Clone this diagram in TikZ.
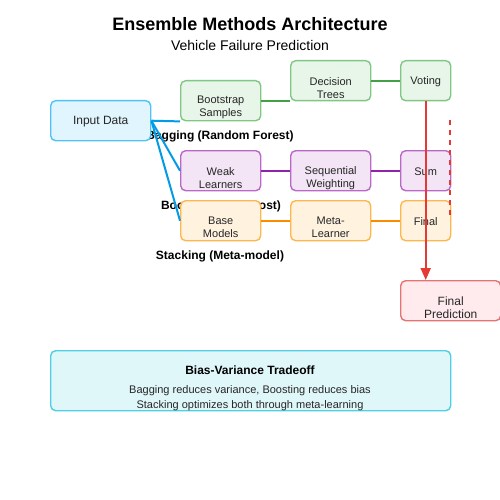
\documentclass[tikz,border=0pt]{standalone}
\usepackage{fontspec}
\setmainfont{Liberation Sans}
\usetikzlibrary{arrows.meta}
\definecolor{bluefill}{HTML}{E1F5FE}\definecolor{bluedraw}{HTML}{4FC3F7}\definecolor{blueline}{HTML}{039BE5}
\definecolor{greenfill}{HTML}{E8F5E9}\definecolor{greendraw}{HTML}{81C784}\definecolor{greenline}{HTML}{43A047}
\definecolor{purpfill}{HTML}{F3E5F5}\definecolor{purpdraw}{HTML}{BA68C8}\definecolor{purpline}{HTML}{8E24AA}
\definecolor{orfill}{HTML}{FFF3E0}\definecolor{ordraw}{HTML}{FFB74D}\definecolor{orline}{HTML}{FB8C00}
\definecolor{redfill}{HTML}{FFEBEE}\definecolor{reddraw}{HTML}{E57373}\definecolor{redline}{HTML}{E53935}
\definecolor{cyanfill}{HTML}{E0F7FA}\definecolor{cyandraw}{HTML}{4DD0E1}
\tikzset{
  box/.style={draw, rounded corners=5pt, line width=1.4pt, inner sep=0pt, anchor=north west},
  txt/.style={font=\fontsize{11}{13}\selectfont, align=center, inner sep=0pt, text=black!85},
  lbl/.style={font=\bfseries\fontsize{12}{14}\selectfont, inner sep=0pt},
  conn/.style={line width=2pt},
}
\begin{document}
\begin{tikzpicture}[x=1pt,y=-1pt]
\useasboundingbox (0,0) rectangle (500,500);
% titles
\node[font=\bfseries\fontsize{18}{20}\selectfont, inner sep=0pt] (title) at (250,24) {Ensemble Methods Architecture};
\node[font=\fontsize{14}{16}\selectfont, inner sep=0pt] (sub) at (250,45) {Vehicle Failure Prediction};
% method labels
\node[lbl] (lbag) at (220,136) {Bagging (Random Forest)};
\node[lbl] (lboost) at (221,206) {Boosting (AdaBoost)};
\node[lbl] (lstack) at (220,256) {Stacking (Meta-model)};
% boxes
\node[box, fill=bluefill, draw=bluedraw, minimum width=100pt, minimum height=40pt] (input) at (50,100) {};
\node[box, fill=greenfill, draw=greendraw, minimum width=80pt, minimum height=40pt] (boot) at (180,80) {};
\node[box, fill=greenfill, draw=greendraw, minimum width=80pt, minimum height=40pt] (dtree) at (290,60) {};
\node[box, fill=greenfill, draw=greendraw, minimum width=50pt, minimum height=40pt] (vote) at (400,60) {};
\node[box, fill=purpfill, draw=purpdraw, minimum width=80pt, minimum height=40pt] (weak) at (180,150) {};
\node[box, fill=purpfill, draw=purpdraw, minimum width=80pt, minimum height=40pt] (seq) at (290,150) {};
\node[box, fill=purpfill, draw=purpdraw, minimum width=50pt, minimum height=40pt] (sum) at (400,150) {};
\node[box, fill=orfill, draw=ordraw, minimum width=80pt, minimum height=40pt] (base) at (180,200) {};
\node[box, fill=orfill, draw=ordraw, minimum width=80pt, minimum height=40pt] (meta) at (290,200) {};
\node[box, fill=orfill, draw=ordraw, minimum width=50pt, minimum height=40pt] (fin) at (400,200) {};
\node[box, fill=redfill, draw=reddraw, minimum width=100pt, minimum height=40pt] (pred) at (400,280) {};
\node[box, fill=cyanfill, draw=cyandraw, minimum width=400pt, minimum height=60pt] (bias) at (50,350) {};
% box texts
\node[txt, font=\fontsize{12}{14}\selectfont] (tinput) at ([yshift=-1pt]input.center) {Input Data};
\node[txt] (tboot) at ([yshift=-7pt]boot.center) {Bootstrap\\Samples};
\node[txt] (tdtree) at ([yshift=-7pt]dtree.center) {Decision\\Trees};
\node[txt] (tvote) at ([yshift=-1pt]vote.center) {Voting};
\node[txt] (tweak) at ([yshift=-7pt]weak.center) {Weak\\Learners};
\node[txt] (tseq) at ([yshift=-7pt]seq.center) {Sequential\\Weighting};
\node[txt] (tsum) at ([yshift=-1pt]sum.center) {Sum};
\node[txt] (tbase) at ([yshift=-7pt]base.center) {Base\\Models};
\node[txt] (tmeta) at ([yshift=-7pt]meta.center) {Meta-\\Learner};
\node[txt] (tfin) at ([yshift=-1pt]fin.center) {Final};
\node[txt, font=\fontsize{12}{13}\selectfont] (tpred) at ([yshift=-7pt]pred.center) {Final\\Prediction};
\node[lbl] (tbias) at (250,370) {Bias-Variance Tradeoff};
\node[txt] (tbias1) at (250,391) {Bagging reduces variance, Boosting reduces bias};
\node[txt] (tbias2) at (250,406) {Stacking optimizes both through meta-learning};
% connectors
\draw[conn, blueline] (input.east) -- (boot.south west);
\draw[conn, blueline] (input.east) -- (weak.west);
\draw[conn, blueline] (input.east) -- (base.west);
\draw[conn, greenline] (boot.east |- dtree.south) -- (dtree.south west);
\draw[conn, greenline] (dtree.east) -- (vote.west);
\draw[conn, purpline] (weak.east) -- (seq.west);
\draw[conn, purpline] (seq.east) -- (sum.west);
\draw[conn, orline] (base.east) -- (meta.west);
\draw[conn, orline] (meta.east) -- (fin.west);
\coordinate (dtop) at (450,120);
\coordinate (dbot) at (450,215);
\draw[conn, redline, dash pattern=on 5pt off 5pt] (dtop) -- (dbot);
\draw[conn, redline, -{Triangle[length=12pt,width=10pt]}] (vote.south) -- (vote.south |- pred.north);
\end{tikzpicture}
\end{document}
